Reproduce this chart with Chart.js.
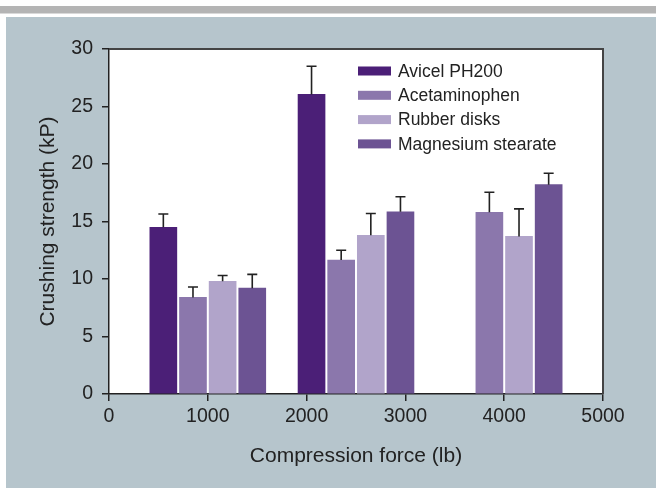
<!DOCTYPE html>
<html>
<head>
<meta charset="utf-8">
<script src="https://cdn.jsdelivr.net/npm/chart.js@4.4.0/dist/chart.umd.min.js"></script>
<style>
  html, body { margin: 0; padding: 0; background: #fff; }
  #wrap { width: 656px; height: 488px; }
</style>
</head>
<body>
<div id="wrap"><canvas id="barChart" width="656" height="488"></canvas></div>
<script>
// compression force of each group (lb)
var forceGroups = [1000, 2500, 4000];
var barSpacing = 300;
var seriesNames = ['Avicel PH200', 'Acetaminophen', 'Rubber disks', 'Magnesium stearate'];
var seriesColors = ['#4b1f77', '#8b77ac', '#b1a4ca', '#6c5393'];

// crushing strength (kP), one value per force group
var avicel = [14.5, 26.05, null];
var acetaminophen = [8.4, 11.65, 15.8];
var rubberDisks = [9.8, 13.8, 13.7];
var magnesiumStearate = [9.2, 15.85, 18.2];

// upper error (kP)
var avicelErr = [1.15, 2.45, null];
var acetaminophenErr = [0.9, 0.85, 1.75];
var rubberDisksErr = [0.5, 1.9, 2.4];
var magnesiumStearateErr = [1.2, 1.3, 1.0];

var yTicks = [0, 5, 10, 15, 20, 25, 30];
var xTicks = [0, 1000, 2000, 3000, 4000, 5000];

var seriesValues = [avicel, acetaminophen, rubberDisks, magnesiumStearate];
var seriesErrors = [avicelErr, acetaminophenErr, rubberDisksErr, magnesiumStearateErr];

function makeDataset(i) {
	var pts = [];
	forceGroups.forEach(function(g, j) {
		if (seriesValues[i][j] == null) return;
		pts.push({ x: g + (i - 1.5) * barSpacing, y: seriesValues[i][j], err: seriesErrors[i][j] });
	});
	return {
		label: seriesNames[i],
		data: pts,
		backgroundColor: seriesColors[i],
		borderWidth: 0,
		barThickness: 27,
		grouped: false
	};
}

var textColor = '#222';
var fontFamily = '"Liberation Sans", Arial, sans-serif';

var backdrop = {
	id: 'backdrop',
	beforeDraw: function(chart) {
		var c = chart.ctx, a = chart.chartArea;
		c.save();
		c.fillStyle = '#fff';
		c.fillRect(0, 0, chart.width, chart.height);
		c.fillStyle = '#b4b4b4';
		c.fillRect(0, 6, chart.width, 7.5);
		c.fillStyle = '#b6c5cc';
		c.fillRect(6, 17, chart.width - 6, chart.height - 17);
		c.fillStyle = '#fff';
		c.fillRect(a.left, a.top, a.right - a.left, a.bottom - a.top);
		c.restore();
	},
	afterDatasetsDraw: function(chart) {
		var c = chart.ctx, a = chart.chartArea;
		var xs = chart.scales.x, ys = chart.scales.y;
		c.save();
		// error bars (upper only)
		c.strokeStyle = '#222';
		c.lineWidth = 1.6;
		chart.data.datasets.forEach(function(ds) {
			ds.data.forEach(function(p) {
				var px = xs.getPixelForValue(p.x);
				var y0 = ys.getPixelForValue(p.y);
				var y1 = ys.getPixelForValue(p.y + p.err);
				c.beginPath();
				c.moveTo(px, y0);
				c.lineTo(px, y1);
				c.moveTo(px - 5, y1);
				c.lineTo(px + 5, y1);
				c.stroke();
			});
		});
		// top and right frame
		c.strokeStyle = '#444';
		c.lineWidth = 2;
		c.beginPath();
		c.moveTo(a.left, a.top);
		c.lineTo(a.right, a.top);
		c.lineTo(a.right, a.bottom);
		c.stroke();
		// legend
		c.font = '17.5px ' + fontFamily;
		c.textBaseline = 'middle';
		c.textAlign = 'left';
		chart.data.datasets.forEach(function(ds, i) {
			var cy = 71 + i * 24.3;
			c.fillStyle = ds.backgroundColor;
			c.fillRect(358, cy - 4.5, 33, 9);
			c.fillStyle = textColor;
			c.fillText(ds.label, 398, cy + 1);
		});
		c.restore();
	}
};

var chart = new Chart(document.getElementById('barChart').getContext('2d'), {
	type: 'bar',
	data: { datasets: seriesNames.map(function(n, i) { return makeDataset(i); }) },
	options: {
		responsive: false,
		animation: false,
		layout: { padding: { left: 0, top: 49, right: 53, bottom: 0 } },
		plugins: { legend: { display: false }, tooltip: { enabled: false } },
		scales: {
			x: {
				type: 'linear',
				offset: false,
				min: 0,
				max: 5000,
				afterBuildTicks: function(s) { s.ticks = xTicks.map(function(v) { return { value: v }; }); },
				afterFit: function(s) { s.height = 94; },
				ticks: { color: textColor, font: { size: 19.5, family: fontFamily }, padding: 4, maxRotation: 0,
					callback: function(v) { return String(v); } },
				grid: { offset: false, drawOnChartArea: false, drawTicks: true, tickLength: 7, color: '#222', lineWidth: 1.5 },
				border: { color: '#222', width: 1.5 },
				title: { display: true, text: 'Compression force (lb)', color: textColor,
					font: { size: 21, family: fontFamily }, padding: { top: 0, bottom: 19 } }
			},
			y: {
				min: 0,
				max: 30,
				afterBuildTicks: function(s) { s.ticks = yTicks.map(function(v) { return { value: v }; }); },
				afterFit: function(s) { s.width = 109; },
				ticks: { color: textColor, font: { size: 19.5, family: fontFamily }, padding: 9 },
				grid: { drawOnChartArea: false, drawTicks: true, tickLength: 7, color: '#222', lineWidth: 1.5 },
				border: { color: '#222', width: 1.5 },
				title: { display: true, text: 'Crushing strength (kP)', color: textColor,
					font: { size: 21, family: fontFamily }, padding: { top: 36, bottom: 0 } }
			}
		}
	},
	plugins: [backdrop]
});
</script>
</body>
</html>
